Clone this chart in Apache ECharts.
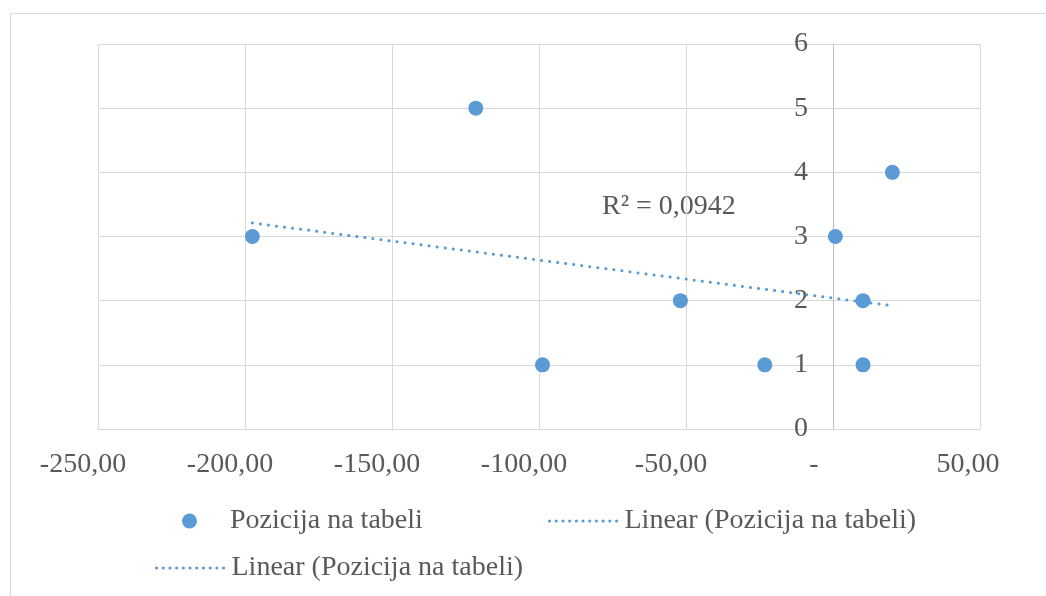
<!DOCTYPE html>
<html>
<head>
<meta charset="utf-8">
<script src="https://cdn.jsdelivr.net/npm/echarts@6/dist/echarts.min.js"></script>
<style>
html,body{margin:0;padding:0;background:#fff;}
#chart{width:1046px;height:596px;}
</style>
</head>
<body>
<div id="chart"></div>
<script>
// Data
const seriesName = 'Pozicija na tabeli';
const trendName = 'Linear (Pozicija na tabeli)';
const xValues = [-197.5, -121.5, -98.8, -51.9, -23.2, 0.8, 10.2, 10.2, 20.2];
const yValues = [3, 5, 1, 2, 1, 3, 2, 1, 4];
const trendX = [-197.5, 20.2];
const trendY = [3.21, 1.92];
const r2Text = 'R² = 0,0942';
const xTickLabels = {'-250': '-250,00', '-200': '-200,00', '-150': '-150,00', '-100': '-100,00', '-50': '-50,00', '0': '-', '50': '50,00'};
const yTickValues = [0, 1, 2, 3, 4, 5, 6];

const FONT = '"Liberation Serif", "Times New Roman", serif';
const TXT = '#595959';
const BLUE = '#5b9bd5';
const GRID_LEFT = 98;

const chart = echarts.init(document.getElementById('chart'), null, {renderer: 'canvas'});

const scatterData = xValues.map((x, i) => [x, yValues[i]]);
const trendData = trendX.map((x, i) => [x, trendY[i]]);

const legendText = {color: TXT, fontFamily: FONT, fontSize: 28, lineHeight: 28};
const legendLine = {color: BLUE, width: 3, type: [0.1, 6.6], cap: 'round', opacity: 1};
const legendCommon = {
  itemHeight: 15,
  itemGap: 0,
  orient: 'horizontal',
  padding: 0,
  selectedMode: false
};

chart.setOption({
  animation: false,
  backgroundColor: '#fff',
  grid: {left: GRID_LEFT, right: 66, top: 44, bottom: 167, containLabel: false},
  xAxis: {
    type: 'value',
    min: -250, max: 50, interval: 50,
    axisLine: {show: true, onZero: true, lineStyle: {color: '#d9d9d9', width: 1}},
    axisTick: {show: false},
    splitLine: {show: true, lineStyle: {color: '#d9d9d9', width: 1}},
    axisLabel: {
      margin: 22,
      color: TXT, fontFamily: FONT, fontSize: 28,
      formatter: function (v) {
        const t = xTickLabels[String(v)];
        if (t === undefined) return '';
        if (v === 0) return '{z|' + t + '}';
        if (v > 0) return '{p|' + t + '}';
        return '{n|' + t + '}';
      },
      rich: {
        n: {color: TXT, fontFamily: FONT, fontSize: 28, padding: [0, 30, 0, 0]},
        z: {color: TXT, fontFamily: FONT, fontSize: 28, padding: [0, 38, 0, 0]},
        p: {color: TXT, fontFamily: FONT, fontSize: 28, padding: [0, 24, 0, 0]}
      }
    }
  },
  yAxis: {
    type: 'value',
    position: 'left',
    min: yTickValues[0], max: yTickValues[yTickValues.length - 1], interval: 1,
    axisLine: {show: true, onZero: false, lineStyle: {color: '#bfbfbf', width: 1}},
    axisTick: {show: false},
    splitLine: {show: true, lineStyle: {color: '#d9d9d9', width: 1}},
    axisLabel: {margin: 25, color: TXT, fontFamily: FONT, fontSize: 28}
  },
  legend: [
    Object.assign({}, legendCommon, {left: 182, top: 507, itemWidth: 15, data: [seriesName],
      textStyle: Object.assign({}, legendText, {padding: [0, 0, 0, 28]})}),
    Object.assign({}, legendCommon, {left: 548, top: 507, itemWidth: 70, data: [trendName],
      itemStyle: {color: 'rgba(0,0,0,0)', borderWidth: 0, opacity: 0},
      lineStyle: legendLine,
      textStyle: Object.assign({}, legendText)}),
    Object.assign({}, legendCommon, {left: 155, top: 554, itemWidth: 70, data: [trendName],
      itemStyle: {color: 'rgba(0,0,0,0)', borderWidth: 0, opacity: 0},
      lineStyle: legendLine,
      textStyle: Object.assign({}, legendText)})
  ],
  graphic: [
    {type: 'rect', silent: true, z: -1, shape: {x: 10.5, y: 13.5, width: 1200, height: 800},
     style: {fill: 'none', stroke: '#d9d9d9', lineWidth: 1}},
    {type: 'text', silent: true, x: 602, y: 207,
     style: {text: r2Text, font: '28px ' + FONT, fill: TXT, verticalAlign: 'middle', align: 'left'}}
  ],
  series: [
    {
      name: seriesName,
      type: 'scatter',
      symbol: 'circle',
      symbolSize: 15,
      itemStyle: {color: BLUE, opacity: 1},
      data: scatterData,
      z: 3
    },
    {
      name: trendName,
      type: 'line',
      symbol: 'none',
      showSymbol: false,
      lineStyle: {color: BLUE, width: 3, type: [0.1, 8], cap: 'round'},
      itemStyle: {color: BLUE},
      data: trendData,
      z: 2
    }
  ]
});

// Move the vertical axis so it crosses the horizontal axis at x = 0 (as in the reference)
const zeroPx = chart.convertToPixel({xAxisIndex: 0}, 0);
chart.setOption({yAxis: {offset: -(zeroPx - GRID_LEFT)}});
</script>
</body>
</html>
